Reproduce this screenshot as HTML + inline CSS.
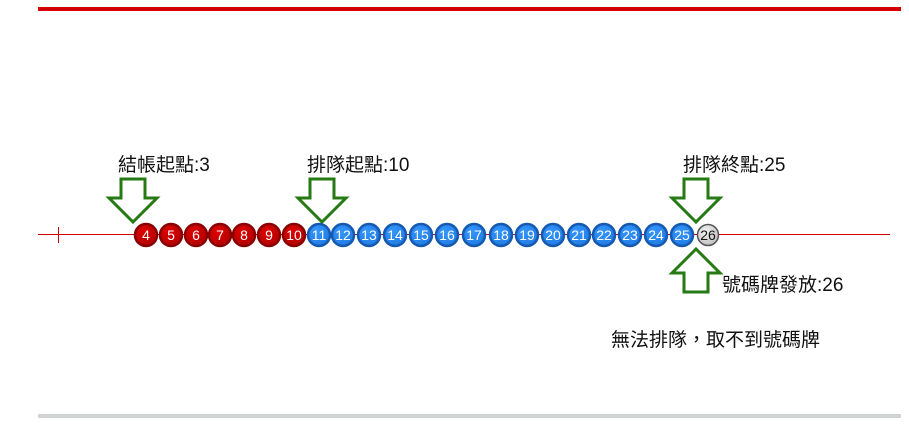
<!DOCTYPE html>
<html><head><meta charset="utf-8"><style>
body{margin:0;background:#fff;width:909px;height:426px;overflow:hidden}
text{font-family:"Liberation Sans","Noto Sans CJK TC",sans-serif}
</style></head><body>
<svg width="909" height="426" xmlns="http://www.w3.org/2000/svg">
<defs>
<radialGradient id="gr" cx="0.4" cy="0.35" r="0.7"><stop offset="0" stop-color="#e00000"/><stop offset="1" stop-color="#b00000"/></radialGradient>
<radialGradient id="gb" cx="0.4" cy="0.35" r="0.7"><stop offset="0" stop-color="#3597ff"/><stop offset="1" stop-color="#1f7ae0"/></radialGradient>
<radialGradient id="gg" cx="0.4" cy="0.35" r="0.7"><stop offset="0" stop-color="#f4f4f4"/><stop offset="1" stop-color="#bdbdbd"/></radialGradient>
</defs>
<rect x="38" y="7" width="863" height="4" fill="#d40000"/>
<rect x="38" y="414" width="863" height="4" fill="#d0d4d4"/>
<line x1="38" y1="234.5" x2="890" y2="234.5" stroke="#d40000" stroke-width="1"/>
<line x1="58.5" y1="227" x2="58.5" y2="243" stroke="#d40000" stroke-width="1"/>
<g stroke-width="3" fill="#fff" stroke="#267a14">
<path d="M121 179 H145 V198 H157 L133 222 L109 198 H121 Z"/>
<path d="M310 179 H334 V198 H346 L322 222 L298 198 H310 Z"/>
<path d="M684 179 H708 V198 H720 L696 222 L672 198 H684 Z"/>
<path d="M684 292 H708 V273 H720 L696 249 L672 273 H684 Z"/>
</g>
<g font-size="14" text-anchor="middle">
<g stroke="#8a0000" stroke-width="2.5" fill="url(#gr)">
<circle cx="146" cy="235" r="11"/><circle cx="171" cy="235" r="11"/><circle cx="196" cy="235" r="11"/><circle cx="220" cy="235" r="11"/><circle cx="244" cy="235" r="11"/><circle cx="269" cy="235" r="11"/><circle cx="294" cy="235" r="11"/>
</g>
<g stroke="#1559b0" stroke-width="2.5" fill="url(#gb)">
<circle cx="319" cy="235" r="11"/><circle cx="343" cy="235" r="11"/><circle cx="369" cy="235" r="11"/><circle cx="395" cy="235" r="11"/><circle cx="421" cy="235" r="11"/><circle cx="447" cy="235" r="11"/><circle cx="474" cy="235" r="11"/><circle cx="501" cy="235" r="11"/><circle cx="527" cy="235" r="11"/><circle cx="553" cy="235" r="11"/><circle cx="579" cy="235" r="11"/><circle cx="604" cy="235" r="11"/><circle cx="630" cy="235" r="11"/><circle cx="656" cy="235" r="11"/><circle cx="682" cy="235" r="11"/>
</g>
<circle cx="708" cy="235" r="10.5" stroke="#555" stroke-width="1.5" fill="url(#gg)"/>
<g fill="#fff">
<text x="146" y="240">4</text><text x="171" y="240">5</text><text x="196" y="240">6</text><text x="220" y="240">7</text><text x="244" y="240">8</text><text x="269" y="240">9</text><text x="294" y="240">10</text>
<text x="319" y="240">11</text><text x="343" y="240">12</text><text x="369" y="240">13</text><text x="395" y="240">14</text><text x="421" y="240">15</text><text x="447" y="240">16</text><text x="474" y="240">17</text><text x="501" y="240">18</text><text x="527" y="240">19</text><text x="553" y="240">20</text><text x="579" y="240">21</text><text x="604" y="240">22</text><text x="630" y="240">23</text><text x="656" y="240">24</text><text x="682" y="240">25</text>
</g>
<text x="708" y="240" fill="#111">26</text>
</g>
<g font-size="19" fill="#111">
<text x="118" y="171">結帳起點:3</text>
<text x="307" y="171">排隊起點:10</text>
<text x="683" y="171">排隊終點:25</text>
<text x="722" y="291">號碼牌發放:26</text>
<text x="611" y="346">無法排隊，取不到號碼牌</text>
</g>
</svg>
</body></html>
